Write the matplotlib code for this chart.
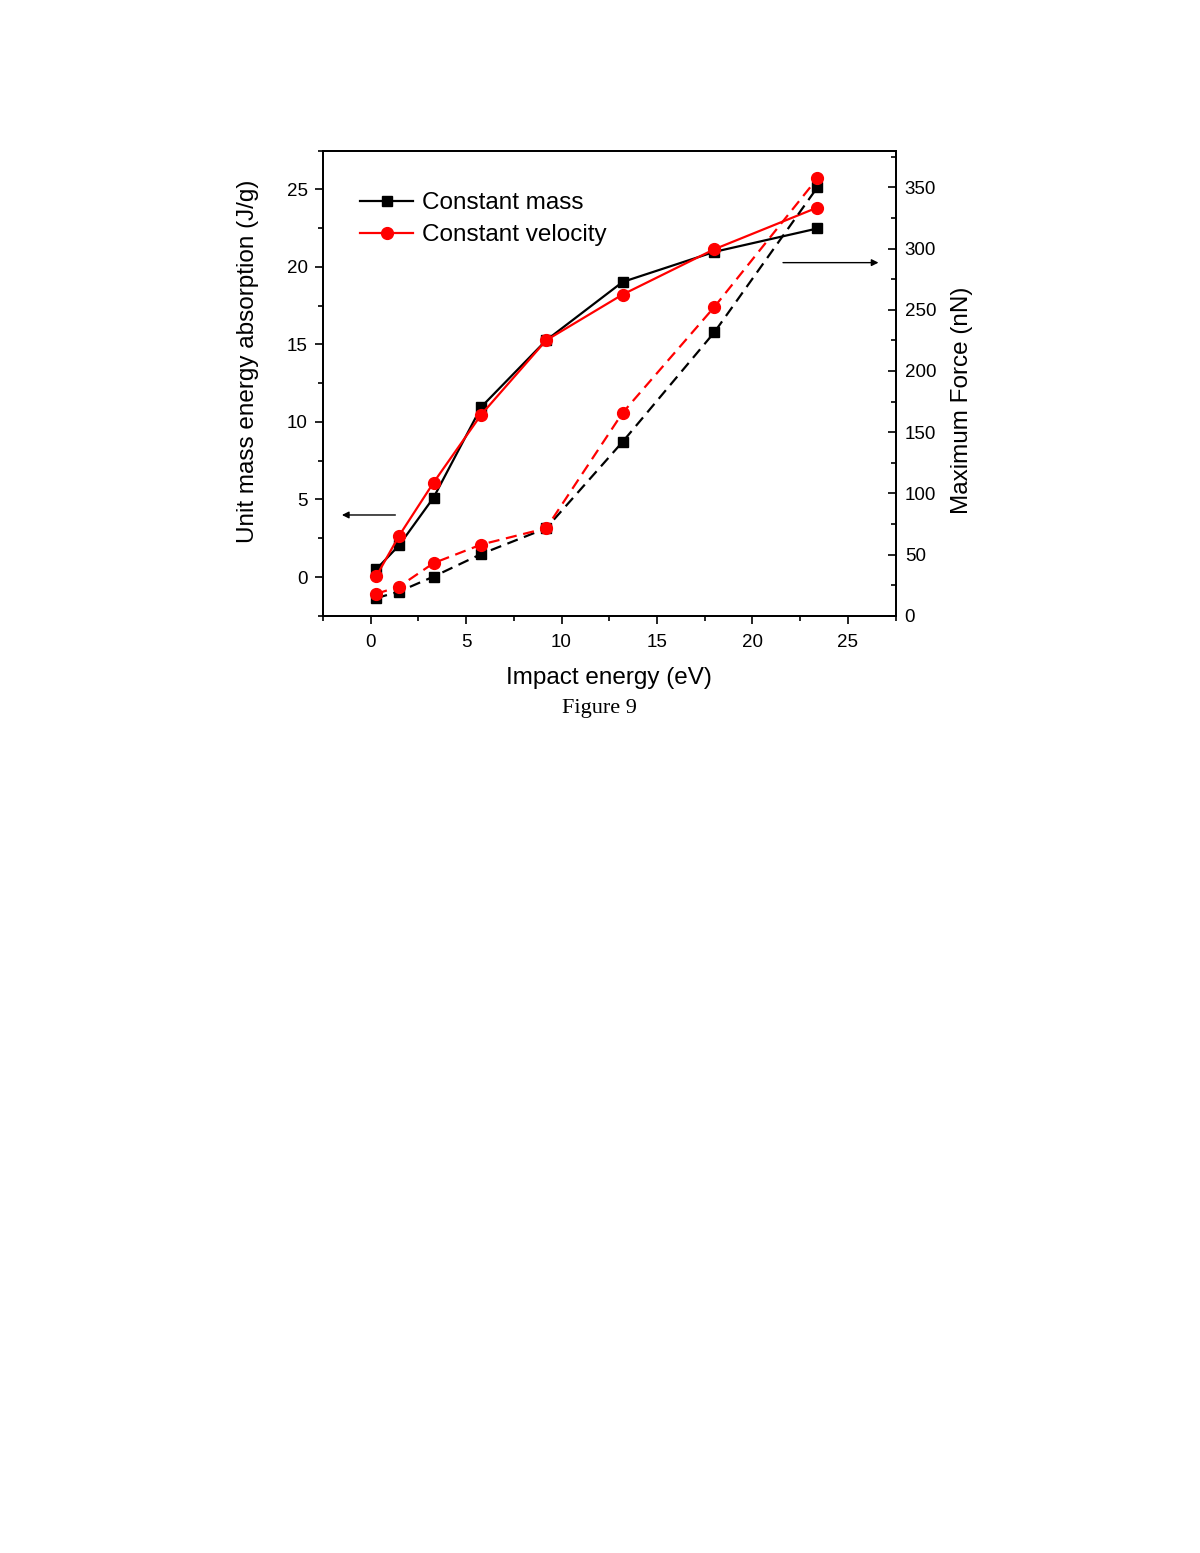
import matplotlib
matplotlib.use("Agg")
import matplotlib.pyplot as plt
from matplotlib.ticker import MultipleLocator

plt.rcParams['font.family'] = ['Liberation Sans', 'DejaVu Sans']

impact_energy = [0.3, 1.5, 3.3, 5.8, 9.2, 13.2, 18.0, 23.4]
absorption_mass = [0.50, 2.05, 5.12, 10.97, 15.27, 19.03, 20.97, 22.48]
absorption_velocity = [0.05, 2.67, 6.09, 10.48, 15.27, 18.22, 21.14, 23.83]
force_mass = [14.4, 19.8, 32.0, 50.5, 71.5, 142.1, 231.5, 350.0]
force_velocity = [17.9, 23.9, 43.0, 58.2, 71.5, 165.8, 252.2, 357.4]

fig = plt.figure(figsize=(12, 15.53), dpi=100)
ax = fig.add_axes([0.269, 0.6035, 0.4774, 0.2995])
ax2 = ax.twinx()

red = '#ff0000'
ax.plot(impact_energy, absorption_mass, color='black', marker='s', markersize=7.5,
        linewidth=1.6, label='Constant mass', zorder=3)
ax.plot(impact_energy, absorption_velocity, color=red, marker='o', markersize=8.5,
        linewidth=1.6, label='Constant velocity', zorder=4)
ax2.plot(impact_energy, force_mass, color='black', marker='s', markersize=7.5,
         linewidth=1.6, dashes=[5, 3])
ax2.plot(impact_energy, force_velocity, color=red, marker='o', markersize=8.5,
         linewidth=1.6, dashes=[5, 3])

ax.set_xlim(-2.5, 27.5)
ax.set_ylim(-2.5, 27.5)
ax2.set_ylim(0, 380)

ax.xaxis.set_major_locator(MultipleLocator(5))
ax.xaxis.set_minor_locator(MultipleLocator(2.5))
ax.yaxis.set_major_locator(MultipleLocator(5))
ax.yaxis.set_minor_locator(MultipleLocator(2.5))
ax2.yaxis.set_major_locator(MultipleLocator(50))
ax2.yaxis.set_minor_locator(MultipleLocator(25))

ax.tick_params(axis='both', which='major', direction='out', length=6, width=1.2,
               labelsize=13.5, pad=5)
ax.tick_params(axis='x', which='major', pad=7)
ax.tick_params(axis='both', which='minor', direction='out', length=3.5, width=1.2)
ax.tick_params(axis='x', top=False, which='both')
ax2.tick_params(axis='y', which='major', direction='in', length=6, width=1.2,
                labelsize=13.5, pad=6.5)
ax2.tick_params(axis='y', which='minor', direction='in', length=3.5, width=1.2)

for a in (ax, ax2):
    for s in a.spines.values():
        s.set_linewidth(1.3)

ax.set_xlabel('Impact energy (eV)', fontsize=17.5, labelpad=12)
ax.set_ylabel('Unit mass energy absorption (J/g)', fontsize=17.5, labelpad=20)
ax2.set_ylabel('Maximum Force (nN)', fontsize=17.5, labelpad=11)
ax.yaxis.label.set_y(0.546)
ax2.yaxis.label.set_y(0.464)

leg = ax.legend(loc='upper left', bbox_to_anchor=(0.048, 0.931), frameon=False,
                fontsize=17.5, handlelength=2.2, handletextpad=0.35,
                labelspacing=0.4, borderaxespad=0)

# direction arrows
ax.annotate('', xy=(-1.5, 4.0), xytext=(1.3, 4.0),
            arrowprops=dict(arrowstyle='-|>', color='black', lw=1.0,
                            mutation_scale=10, shrinkA=0, shrinkB=0))
ax2.annotate('', xy=(26.6, 288.5), xytext=(21.6, 288.5),
             arrowprops=dict(arrowstyle='-|>', color='black', lw=1.0,
                             mutation_scale=10, shrinkA=0, shrinkB=0))

fig.text(0.4992, 1 - 709 / 1553, 'Figure 9', ha='center', va='center',
         fontsize=16, family=['Liberation Serif', 'DejaVu Serif'])

fig.savefig('out.png', dpi=100)
